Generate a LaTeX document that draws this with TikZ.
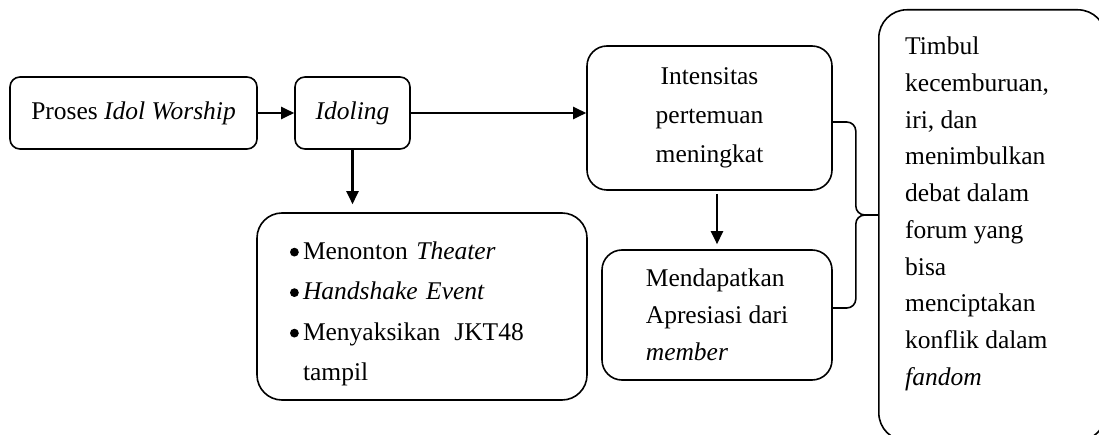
\documentclass[tikz,border=0pt]{standalone}
\usepackage{fontspec}
\setmainfont{Liberation Serif}
\usetikzlibrary{arrows.meta,calc}
\newcommand{\itm}{\makebox[13pt][l]{\raisebox{2.5pt}{\tikz\fill (0,0) circle (4.4pt);}}}
\begin{document}
\begin{tikzpicture}[x=1pt,y=-1pt,
  box/.style={draw, line width=1.6pt, inner sep=0pt, font=\fontsize{25.5}{37}\selectfont},
  arr/.style={line width=2.4pt, -{Triangle[length=13pt,width=12pt]}}]
\useasboundingbox (0,0) rectangle (1099,435);
\clip (0,0) rectangle (1099,435);
\node[box, rounded corners=10pt, minimum width=247, minimum height=72] (proses) at (133.5,113) {Proses \textit{Idol Worship}};
\node[box, rounded corners=10pt, minimum width=115, minimum height=72] (idoling) at (352.5,113) {\textit{Idoling}};
\node[box, rounded corners=20pt, minimum width=245, minimum height=144, align=center,
  font=\fontsize{25.5}{39}\selectfont] (intensitas) at (709.5,118) {Intensitas\\pertemuan\\meningkat};
\node[box, rounded corners=25pt, minimum width=330, minimum height=187, text width=264, align=left,
  font=\fontsize{25.5}{40.5}\selectfont] (aktivitas) at (422,306.5)
  {\rule{0pt}{32pt}\itm Menonton \textit{Theater}\\
   \itm\textit{Handshake Event}\\
   \itm Menyaksikan\hspace{14pt}JKT48\\
   \hphantom{\itm}tampil};
\node[box, rounded corners=20pt, minimum width=230, minimum height=130, align=left] (apresiasi) at (717,315) {Mendapatkan\\Apresiasi dari\\\textit{member}};
\node[box, rounded corners=28pt, minimum width=227, minimum height=431, anchor=north west] (dampak) at (878,9) {};
\node[font=\fontsize{25.5}{36.7}\selectfont, align=left, inner sep=0pt, anchor=north west] (dampaktxt) at ($(dampak.north west)+(27,28)$)
  {Timbul\\kecemburuan,\\iri, dan\\menimbulkan\\debat dalam\\forum yang\\bisa\\menciptakan\\konflik dalam\\\textit{fandom}};
% panah
\draw[arr] (proses.east) -- (idoling.west);
\draw[arr] (idoling.east) -- (idoling.east -| intensitas.west);
\draw[arr, shorten >=8pt] (idoling.south) -- (idoling.south |- aktivitas.north);
\draw[arr, shorten <=3pt, shorten >=5pt] (apresiasi.north |- intensitas.south) -- (apresiasi.north);
% kurung kurawal
\coordinate (tip) at (dampak.west |- 0,215);
\draw[line width=1.6pt, rounded corners=9pt] ($(intensitas.east)+(0,4)$) -- ++(23,0) |- (tip);
\draw[line width=1.6pt, rounded corners=9pt] ($(apresiasi.east)+(0,-7)$) -- ++(23,0) |- (tip);
\end{tikzpicture}
\end{document}
